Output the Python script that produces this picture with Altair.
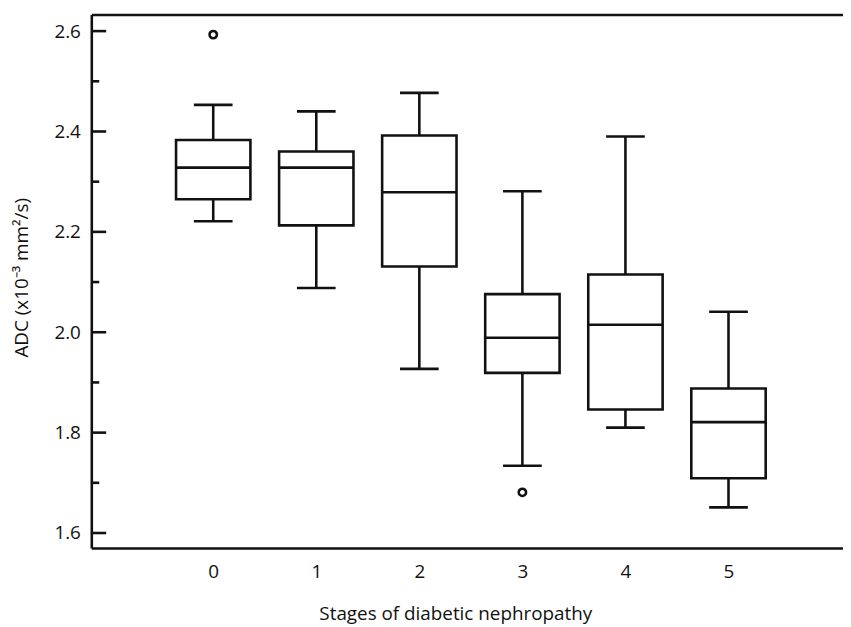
import altair as alt
import pandas as pd

# ---- data ----
stages = [0, 1, 2, 3, 4, 5]
whisker_low = [2.221, 2.088, 1.927, 1.734, 1.810, 1.651]
q1 = [2.265, 2.213, 2.131, 1.919, 1.846, 1.709]
median = [2.328, 2.328, 2.279, 1.989, 2.015, 1.821]
q3 = [2.383, 2.360, 2.392, 2.076, 2.115, 1.888]
whisker_high = [2.453, 2.440, 2.477, 2.281, 2.390, 2.041]
outlier_stage = [0, 3]
outlier_value = [2.593, 1.681]
major_ticks = [1.6, 1.8, 2.0, 2.2, 2.4, 2.6]
minor_ticks = [1.7, 1.9, 2.1, 2.3, 2.5]
x_tick_labels = [0, 1, 2, 3, 4, 5]

C = "#111111"
LW = 2.6

box_df = pd.DataFrame({
    "stage": stages, "lo": whisker_low, "q1": q1,
    "med": median, "q3": q3, "hi": whisker_high,
})
cap_df = pd.DataFrame({
    "stage": stages + stages,
    "v": whisker_low + whisker_high,
})
out_df = pd.DataFrame({"stage": outlier_stage, "v": outlier_value})
major_df = pd.DataFrame({"v": major_ticks})
minor_df = pd.DataFrame({"v": minor_ticks})

xs = alt.Scale(domain=[-1.135, 6.063], nice=False, zero=False)
ys = alt.Scale(domain=[1.570, 2.633], nice=False, zero=False)

x_axis_bottom = alt.Axis(
    orient="bottom", values=x_tick_labels, format="d", ticks=False,
    labelPadding=15, title="Stages of diabetic nephropathy",
    titleX=367, titleY=72, titleAlign="center", titleBaseline="alphabetic",
)
x_axis_top = alt.Axis(
    orient="top", labels=False, ticks=False, title=None, domain=True,
)
y_axis = alt.Axis(
    orient="left", values=major_ticks, format=".1f", ticks=False,
    labelPadding=11, title="ADC (x10⁻³ mm²/s)", titleX=-70, titleY=265,
    titleAngle=270, titleAlign="center", titleBaseline="middle",
)


def Y(field):
    return alt.Y(field, scale=ys, axis=y_axis)


whisk = alt.Chart(box_df).mark_rule(color=C, strokeWidth=LW).encode(
    x=alt.X("stage:Q", scale=xs, axis=x_axis_bottom),
    y=Y("lo:Q"),
    y2="hi:Q",
)
boxes = alt.Chart(box_df).mark_bar(
    size=75, fill="white", stroke=C, strokeWidth=LW, opacity=1
).encode(
    x=alt.X("stage:Q", scale=xs, axis=x_axis_top),
    y=Y("q1:Q"),
    y2="q3:Q",
)
medians = alt.Chart(box_df).mark_tick(
    orient="horizontal", size=75, thickness=LW, color=C, opacity=1
).encode(
    x=alt.X("stage:Q", scale=xs, axis=None),
    y=Y("med:Q"),
)
caps = alt.Chart(cap_df).mark_tick(
    orient="horizontal", size=39, thickness=LW, color=C, opacity=1
).encode(
    x=alt.X("stage:Q", scale=xs, axis=None),
    y=Y("v:Q"),
)
outliers = alt.Chart(out_df).mark_point(
    shape="circle", filled=False, size=55, strokeWidth=LW, color=C, opacity=1
).encode(
    x=alt.X("stage:Q", scale=xs, axis=None),
    y=Y("v:Q"),
)
major = alt.Chart(major_df).mark_rule(color=C, strokeWidth=LW).encode(
    x=alt.value(0), x2=alt.value(15),
    y=Y("v:Q"),
)
minor = alt.Chart(minor_df).mark_rule(color=C, strokeWidth=LW).encode(
    x=alt.value(0), x2=alt.value(8),
    y=Y("v:Q"),
)

chart = alt.layer(whisk, boxes, medians, caps, outliers, major, minor).resolve_axis(
    x="independent"
).properties(
    width=758, height=538,
    autosize=alt.AutoSizeParams(type="none"),
    padding={"left": 84, "top": 4, "right": 0, "bottom": 77},
    background="white",
).configure_view(stroke=None).configure_axis(
    labelFont="Open Sans", titleFont="Open Sans",
    labelColor=C, titleColor=C, domainColor=C, domainWidth=LW,
    grid=False, labelFontSize=19, titleFontSize=19, titleFontWeight="normal",
)

chart.save("out.html", embed_options={"renderer": "svg", "actions": False})
